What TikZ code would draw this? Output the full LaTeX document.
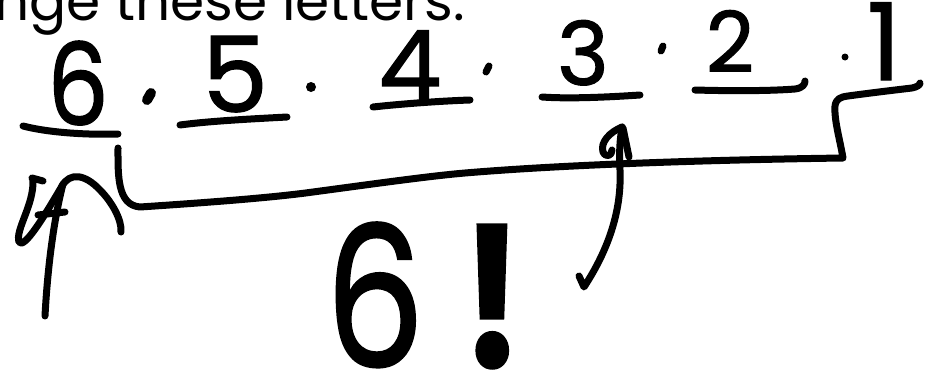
\documentclass[tikz,border=0pt]{standalone}
\usepackage{fontspec}
\setmainfont{Poppins}
\newfontfamily\handfont[FakeBold=1.2]{Poppins}
\begin{document}
\begin{tikzpicture}[x=1pt,y=-1pt,
  pen/.style={line width=7pt,line cap=round,line join=round},
  digit/.style={font=\handfont\fontsize{#1}{#1}\selectfont,inner sep=0pt,anchor=base,text depth=0pt},
  dotmark/.style={fill=black}]
\path[use as bounding box,clip] (0,0) rectangle (930,386);
\fill[white] (0,0) rectangle (930,386);
% printed heading (cut at the top, as in the reference)
\node[anchor=base east,inner sep=0pt,text depth=0pt,font=\fontsize{55}{55}\selectfont] (title) at (465,20) {nge these letters:};
% handwritten product
\node[digit=114,xscale=0.85] (d6) at (78,125) {6};
\node[digit=105] (d5) at (235,112) {5};
\node[digit=100] (d4) at (410,102) {4};
\node[digit=88] (d3) at (583,85) {3};
\node[digit=84] (d2) at (730,72) {2};
\node[digit=107] (d1) at (884,80) {1};
% underlines
\draw[pen] (23,126) .. controls (50,133) and (90,135) .. (118,134);
\draw[pen] (180,125) .. controls (210,121) and (250,119) .. (287,117);
\draw[pen] (373,107) .. controls (400,104) and (440,101) .. (470,100);
\draw[pen] (542,97) .. controls (570,99) and (610,97) .. (640,95);
\draw[pen] (695,90) .. controls (730,91) and (770,91) .. (795,89) .. controls (803,88) and (805,84) .. (805,81);
% multiplication dots
\draw[line width=10pt,line cap=round] (151,93) -- (147,100);
\fill (311,87) circle (5);
\draw[line width=7pt,line cap=round] (489,66) -- (486,72);
\draw[line width=7pt,line cap=round] (663,46) -- (661,51);
\fill (845,57) circle (3.5);
% brace
\draw[pen] (118,148) .. controls (118,175) and (117,205) .. (140,207)
  .. controls (200,203) and (270,198) .. (313,192)
  .. controls (380,183) and (430,176) .. (465,173)
  .. controls (560,165) and (700,160) .. (843,158)
  .. controls (840,140) and (834,120) .. (835,106)
  .. controls (836,99) and (840,97) .. (848,96)
  .. controls (870,93) and (895,90) .. (912,88)
  .. controls (917,87) and (920,85) .. (920,83);
% left arrow
\draw[pen] (45,316) .. controls (48,260) and (55,215) .. (63,184);
\draw[pen] (32,178) -- (43,181);
\draw[pen] (33,180) .. controls (34,205) and (15,230) .. (19,242) .. controls (24,250) and (45,215) .. (62,186);
\draw[pen] (38,215) -- (65,212);
\draw[pen] (62,186) .. controls (70,172) and (85,174) .. (100,190) .. controls (112,202) and (122,220) .. (121,232);
% middle arrow
\draw[pen] (579,276) -- (584,287) .. controls (605,255) and (622,215) .. (620,170) .. controls (619,150) and (620,140) .. (622,127);
\draw[pen] (622,127) .. controls (610,132) and (600,142) .. (603,152) .. controls (606,158) and (612,156) .. (612,150);
\draw[pen] (623,128) -- (629,157);
% result
\node[anchor=base,inner sep=0pt,text depth=0pt,font=\handfont\fontsize{196}{196}\selectfont,xscale=0.8] (fact) at (424,367) {6\hspace{46pt}{\bfseries !}};
\end{tikzpicture}
\end{document}
